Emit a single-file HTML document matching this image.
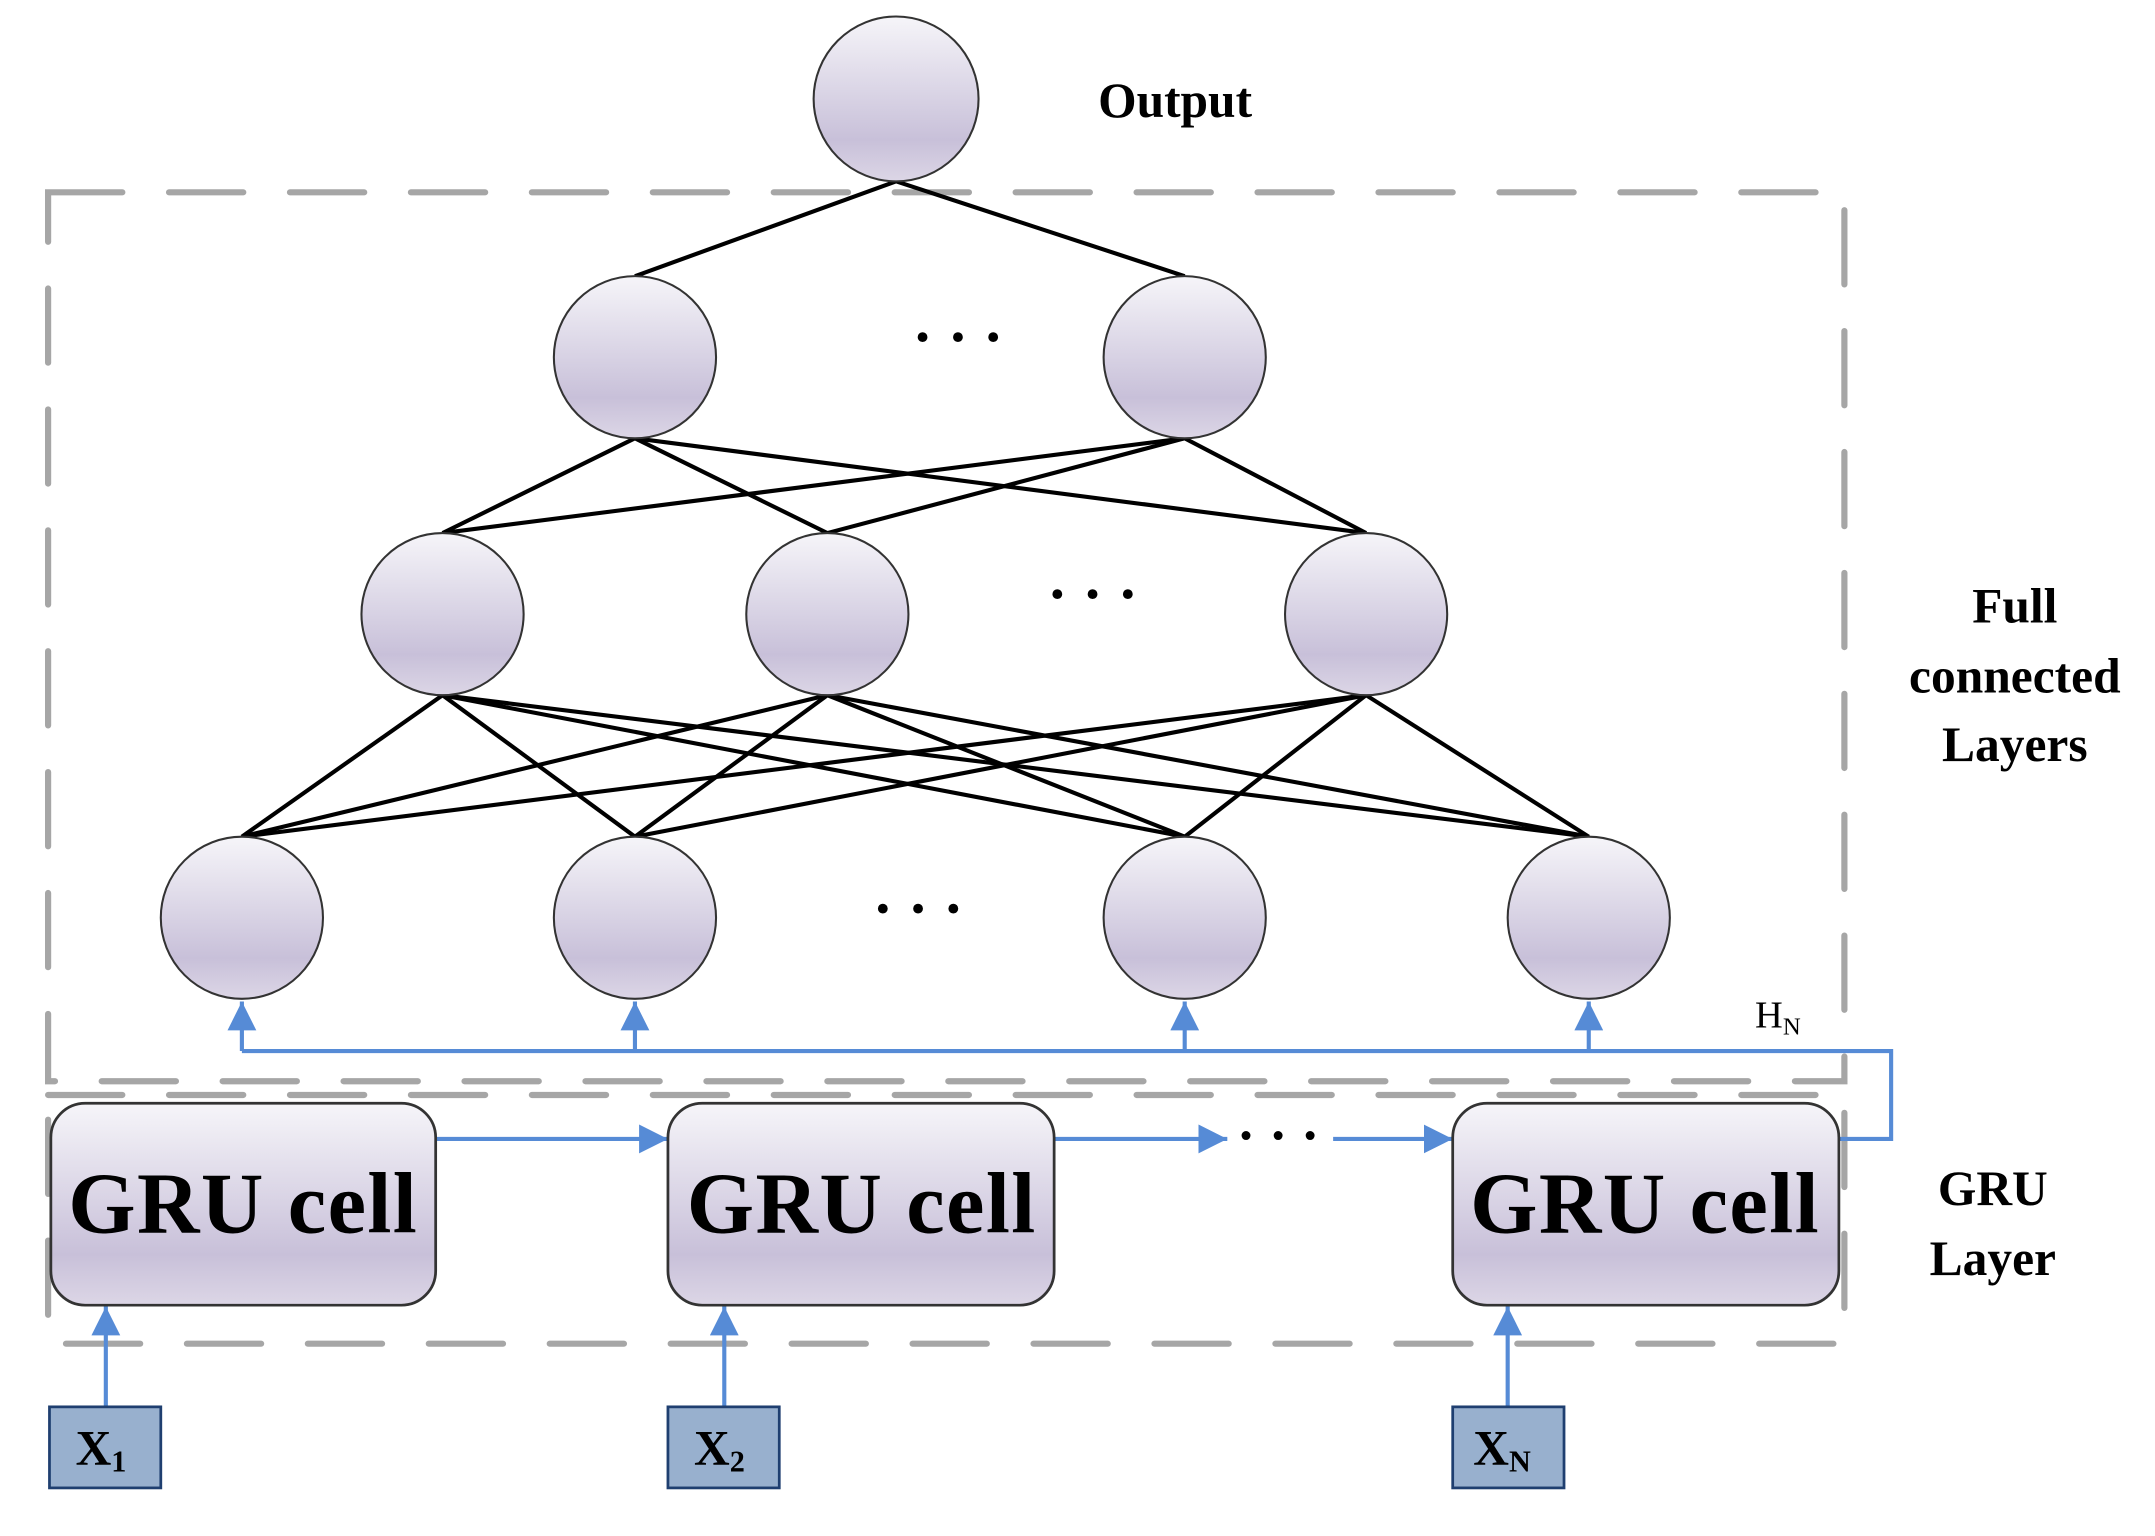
<!DOCTYPE html>
<html><head><meta charset="utf-8"><style>html,body{margin:0;padding:0;background:#fff;}svg{display:block;}</style></head>
<body>
<svg width="2155" height="1536" viewBox="0 0 1568 1118" preserveAspectRatio="none" xmlns="http://www.w3.org/2000/svg" font-family="'Liberation Serif',serif">
<defs>
<linearGradient id="g" x1="0" y1="0" x2="0" y2="1">
<stop offset="0" stop-color="#f6f5f9"/><stop offset="0.75" stop-color="#c8c0d9"/><stop offset="1" stop-color="#dcd6e6"/>
</linearGradient>
<marker id="a" viewBox="0 0 10 10" refX="10" refY="5" markerWidth="7" markerHeight="7" orient="auto" markerUnits="strokeWidth"><path d="M0,0L10,5L0,10z" fill="#568bd6"/></marker>
</defs>
<g fill="none" stroke="#a6a6a6" stroke-width="4.5" stroke-dasharray="54,34" stroke-linecap="round">
<rect x="35" y="140" width="1307" height="647"/>
<rect x="35" y="797" width="1307" height="181"/>
</g>
<g stroke="#000" stroke-width="3">
<line x1="652" y1="132" x2="462" y2="201"/><line x1="652" y1="132" x2="862" y2="201"/>
<line x1="462" y1="319" x2="322" y2="388"/><line x1="462" y1="319" x2="602" y2="388"/><line x1="462" y1="319" x2="994" y2="388"/>
<line x1="862" y1="319" x2="322" y2="388"/><line x1="862" y1="319" x2="602" y2="388"/><line x1="862" y1="319" x2="994" y2="388"/>
<line x1="322" y1="506" x2="176" y2="609"/><line x1="322" y1="506" x2="462" y2="609"/><line x1="322" y1="506" x2="862" y2="609"/><line x1="322" y1="506" x2="1156" y2="609"/>
<line x1="602" y1="506" x2="176" y2="609"/><line x1="602" y1="506" x2="462" y2="609"/><line x1="602" y1="506" x2="862" y2="609"/><line x1="602" y1="506" x2="1156" y2="609"/>
<line x1="994" y1="506" x2="176" y2="609"/><line x1="994" y1="506" x2="462" y2="609"/><line x1="994" y1="506" x2="862" y2="609"/><line x1="994" y1="506" x2="1156" y2="609"/>
</g>
<g stroke="#333" stroke-width="1.5" fill="url(#g)">
<circle cx="652" cy="72" r="60"/>
<circle cx="462" cy="260" r="59"/><circle cx="862" cy="260" r="59"/>
<circle cx="322" cy="447" r="59"/><circle cx="602" cy="447" r="59"/><circle cx="994" cy="447" r="59"/>
<circle cx="176" cy="668" r="59"/><circle cx="462" cy="668" r="59"/><circle cx="862" cy="668" r="59"/><circle cx="1156" cy="668" r="59"/>
</g>
<g font-size="44" font-weight="bold" text-anchor="middle">
<text x="697" y="260">· · ·</text><text x="795" y="447">· · ·</text><text x="668" y="676">· · ·</text>
</g>
<g stroke="#568bd6" stroke-width="3" fill="none">
<polyline points="176,765 1376,765 1376,829 1338,829"/>
<line x1="176" y1="765" x2="176" y2="729" marker-end="url(#a)"/>
<line x1="462" y1="765" x2="462" y2="729" marker-end="url(#a)"/>
<line x1="862" y1="765" x2="862" y2="729" marker-end="url(#a)"/>
<line x1="1156" y1="765" x2="1156" y2="729" marker-end="url(#a)"/>
<line x1="317" y1="829" x2="486" y2="829" marker-end="url(#a)"/>
<line x1="767" y1="829" x2="893" y2="829" marker-end="url(#a)"/>
<line x1="970" y1="829" x2="1057" y2="829" marker-end="url(#a)"/>
<line x1="77" y1="1024" x2="77" y2="951" marker-end="url(#a)"/>
<line x1="527" y1="1024" x2="527" y2="951" marker-end="url(#a)"/>
<line x1="1097" y1="1024" x2="1097" y2="951" marker-end="url(#a)"/>
</g>
<text x="930" y="840" font-size="40" font-weight="bold" text-anchor="middle">· · ·</text>
<g stroke="#333" stroke-width="2" fill="url(#g)">
<rect x="37" y="803" width="280" height="147" rx="25"/>
<rect x="486" y="803" width="281" height="147" rx="25"/>
<rect x="1057" y="803" width="281" height="147" rx="25"/>
</g>
<g font-size="63" font-weight="bold" text-anchor="middle" letter-spacing="1">
<text x="177" y="897">GRU cell</text><text x="627" y="897">GRU cell</text><text x="1197" y="897">GRU cell</text>
</g>
<g fill="#98b0ce" stroke="#1f3f70" stroke-width="2">
<rect x="36" y="1024" width="81" height="59"/><rect x="486" y="1024" width="81" height="59"/><rect x="1057" y="1024" width="81" height="59"/>
</g>
<g font-size="36" font-weight="bold">
<text x="55" y="1066">X<tspan font-size="22" dy="5">1</tspan></text>
<text x="505" y="1066">X<tspan font-size="22" dy="5">2</tspan></text>
<text x="1072" y="1066">X<tspan font-size="22" dy="5">N</tspan></text>
</g>
<text x="1277" y="748" font-size="28">H<tspan font-size="18" dy="5">N</tspan></text>
<g font-size="36" font-weight="bold" text-anchor="middle">
<text x="855" y="85">Output</text>
<text x="1466" y="453">Full</text><text x="1466" y="504">connected</text><text x="1466" y="554">Layers</text>
<text x="1450" y="877">GRU</text><text x="1450" y="928">Layer</text>
</g>
</svg>
</body></html>
